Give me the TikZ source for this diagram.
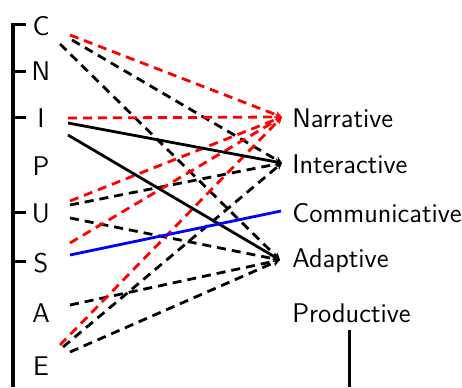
\documentclass[tikz,border=0pt]{standalone}
\usepackage{tikz}
\usetikzlibrary{arrows.meta}

\begin{document}
\begin{tikzpicture}[
    x=0.5pt, y=-0.5pt,
    every node/.style={font={\sffamily\fontsize{13.5}{16}\selectfont}},
    letter/.style={anchor=base, inner sep=0pt},
    skill/.style={anchor=base west, inner sep=0pt},
    axis/.style={line width=1.5pt},
    link/.style={-{Stealth[length=3.5pt,width=3.5pt]}, line width=1.4pt},
    dlink/.style={link, dash pattern=on 4.5pt off 3pt},
    ]
    \useasboundingbox (0,0) rectangle (462,387);

    % letters on the left
    \node [letter] (c) at (41,35) {C};
    \node [letter] (n) at (41,80) {N};
    \node [letter] (i) at (41,127) {I};
    \node [letter] (p) at (41,175) {P};
    \node [letter] (u) at (41,222) {U};
    \node [letter] (s) at (41,272) {S};
    \node [letter] (a) at (41,322) {A};
    \node [letter] (e) at (41,375) {E};

    % skills on the right
    \node [skill] (narr) at (292,127) {Narrative};
    \node [skill] (inter) at (292,173) {Interactive};
    \node [skill] (comm) at (292,222) {Communicative};
    \node [skill] (adapt) at (292,267) {Adaptive};
    \node [skill] (prod) at (292,322) {Productive};

    % axis
    \draw [axis] (26,24) -| (13,387);
    \foreach \y in {71,117,212,261}
      \draw [axis] (13,\y) -- (26,\y);
    \draw [axis] (350,330) -- (350,387);

    % end points
    \coordinate (narr-in) at (282,117);
    \coordinate (inter-in) at (282,163);
    \coordinate (comm-in) at (281,211);
    \coordinate (adapt-in) at (280,260);

    % start points
    \coordinate (c1) at (70,35);
    \coordinate (c2) at (72,40);
    \coordinate (c3) at (60,44);
    \coordinate (i1) at (68,118);
    \coordinate (i2) at (68,123);
    \coordinate (i3) at (68,135);
    \coordinate (u1) at (70,201);
    \coordinate (u2) at (70,205);
    \coordinate (u3) at (70,218);
    \coordinate (s1) at (70,243);
    \coordinate (s2) at (70,255);
    \coordinate (a1) at (70,305);
    \coordinate (e1) at (60,345);
    \coordinate (e2) at (63,347);
    \coordinate (e3) at (70,352);

    \draw [dlink] (c2) -- (inter-in);
    \draw [dlink] (c3) -- (adapt-in);
    \draw [dlink] (u2) -- (inter-in);
    \draw [dlink] (u3) -- (adapt-in);
    \draw [dlink] (a1) -- (adapt-in);
    \draw [dlink] (e2) -- (inter-in);
    \draw [dlink] (e3) -- (adapt-in);

    \draw [dlink, red] (c1) -- (narr-in);
    \draw [dlink, red] (i1) -- (narr-in);
    \draw [dlink, red] (u1) -- (narr-in);
    \draw [dlink, red] (s1) -- (narr-in);
    \draw [dlink, red] (e1) -- (narr-in);

    \draw [link] (i2) -- (inter-in);
    \draw [link] (i3) -- (adapt-in);
    \draw [line width=1.4pt, blue] (s2) -- (comm-in);
\end{tikzpicture}
\end{document}
